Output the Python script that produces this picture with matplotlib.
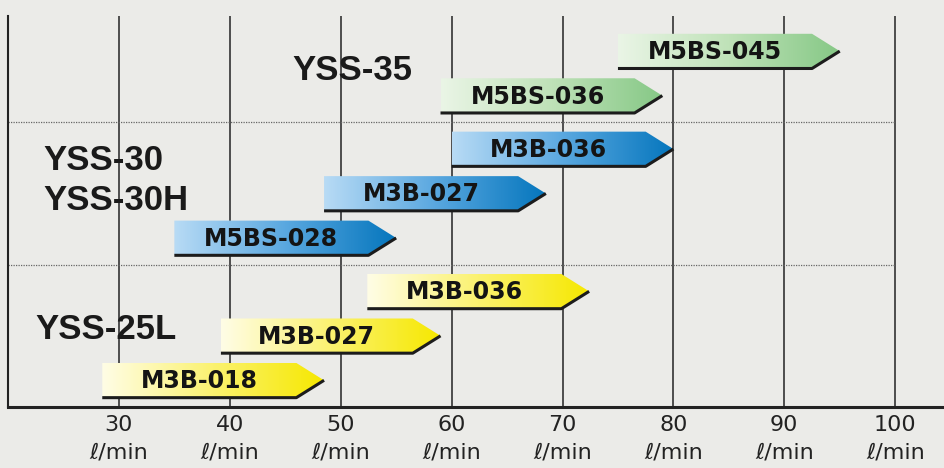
import numpy as np
import matplotlib
matplotlib.use('Agg')
import matplotlib.pyplot as plt
from matplotlib.colors import LinearSegmentedColormap
from matplotlib.patches import Polygon

# データ (流量 ℓ/min)
pump_names = ['M5BS-045', 'M5BS-036', 'M3B-036', 'M3B-027', 'M5BS-028',
              'M3B-036', 'M3B-027', 'M3B-018']
flow_low = [75, 59, 60, 48.5, 35, 52.4, 39.2, 28.5]
flow_high = [95, 79, 80, 68.5, 55, 72.4, 59, 48.5]
rows = [8.0, 7.0, 5.8, 4.8, 3.8, 2.6, 1.6, 0.6]
bar_group = ['green', 'green', 'blue', 'blue', 'blue', 'yellow', 'yellow', 'yellow']

model_names = ['YSS-35', 'YSS-30', 'YSS-30H', 'YSS-25L']
model_x = [45.6, 23.2, 23.2, 22.5]
model_y = [7.56, 5.54, 4.64, 1.75]

group_lines = [6.4, 3.2]
ticks = [30, 40, 50, 60, 70, 80, 90, 100]
tick_labels = [f"{t}\nℓ/min" for t in ticks]

palette = {
    'green': ['#eaf5e6', '#bfe2b8', '#86c886'],
    'blue': ['#b8dbf5', '#5aa8e0', '#0576bd'],
    'yellow': ['#fffde6', '#fbf270', '#f6e800'],
}

bg = '#ebebe8'
fam = ['Liberation Sans', 'DejaVu Sans']

fig = plt.figure(figsize=(9.44, 4.68), dpi=100, facecolor=bg)
ax = fig.add_axes([8 / 944, 61 / 468, 936 / 944, 391 / 468])
ax.set_facecolor(bg)
ax.set_xlim(20, 104.4)
ax.set_ylim(0, 8.79)

# 縦線・横の点線
ax.vlines(ticks, 0, 8.79, color='#333333', lw=1.2, zorder=1)
ax.hlines(group_lines, 20, 100, color='#666666', lw=0.9, linestyles=(0, (1, 1)), zorder=1)

h = 0.78
tip = 2.5
grad = np.linspace(0, 1, 256).reshape(1, -1)
for name, lo, hi, y, g in zip(pump_names, flow_low, flow_high, rows, bar_group):
    body = hi - tip
    pts = [(lo, y - h / 2), (lo, y + h / 2), (body, y + h / 2), (hi, y), (body, y - h / 2)]
    poly = Polygon(pts, closed=True, facecolor='none', edgecolor='none', zorder=3)
    ax.add_patch(poly)
    cmap = LinearSegmentedColormap.from_list(g, palette[g])
    im = ax.imshow(grad, cmap=cmap, aspect='auto', extent=(lo, hi, y - h / 2, y + h / 2),
                   zorder=3, interpolation='bilinear')
    im.set_clip_path(poly)
    # 下側の影
    ax.plot([lo, body, hi], [y - h / 2, y - h / 2, y], color='#1c1c1c', lw=2.2,
            solid_capstyle='butt', zorder=4)
    ax.text((lo + body) / 2, y - 0.02, name, ha='center', va='center', fontsize=17,
            fontweight='bold', color='#141414', family='DejaVu Sans', zorder=5)

for name, x, y in zip(model_names, model_x, model_y):
    ax.text(x, y, name, ha='left', va='center', fontsize=25, fontweight='bold',
            color='#1a1a1a', family=fam, zorder=5)

ax.set_xticks(ticks)
ax.set_xticklabels(tick_labels, fontsize=16, family='DejaVu Sans', color='#222222',
                   linespacing=1.45)
ax.tick_params(axis='x', length=0, pad=6)
ax.set_yticks([])
for s in ['top', 'right']:
    ax.spines[s].set_visible(False)
ax.spines['left'].set_linewidth(1.5)
ax.spines['left'].set_color('#222222')
ax.spines['bottom'].set_linewidth(2.2)
ax.spines['bottom'].set_color('#222222')

fig.savefig('out.png', dpi=100, facecolor=bg)
